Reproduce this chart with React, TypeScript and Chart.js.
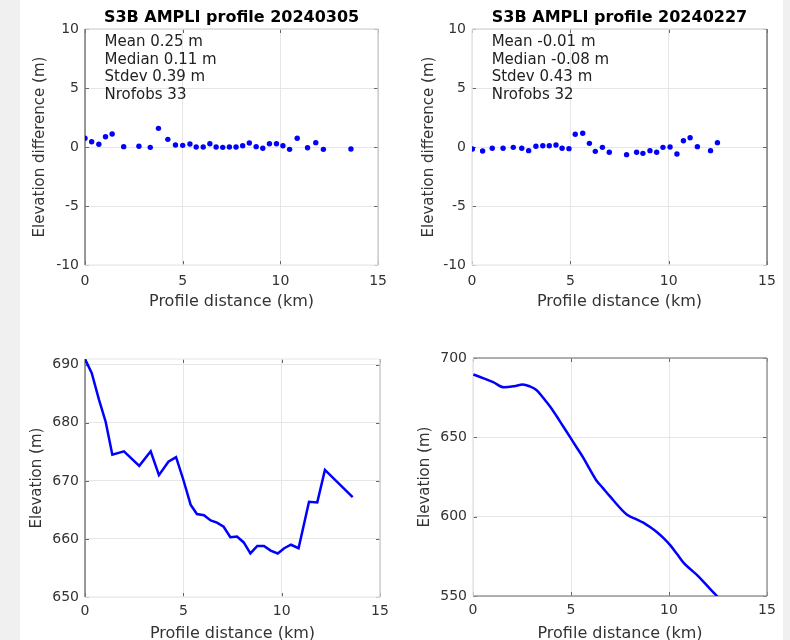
import React, { useEffect, useRef } from "react";
import { Chart, registerables } from "chart.js";
Chart.register(...registerables);

const FONT = "'DejaVu Sans', sans-serif";
const BLUE = "#0000ff";
const GRID = "#e6e6e6";
const TXT = "#333333";

// ---------- data ----------
const xTicks = [0, 5, 10, 15];
const diffTicks = [-10, -5, 0, 5, 10];
const elevTicksA = [650, 660, 670, 680, 690];
const elevTicksB = [550, 600, 650, 700];

const dist0305 = [0, 0.34, 0.71, 1.05, 1.39, 1.98, 2.76, 3.34, 3.76, 4.24, 4.63, 5.0, 5.37, 5.69, 6.05, 6.39, 6.71, 7.05, 7.39, 7.73, 8.07, 8.41, 8.76, 9.1, 9.44, 9.8, 10.13, 10.47, 10.86, 11.39, 11.81, 12.2, 13.61];
const diff0305 = [0.74, 0.45, 0.23, 0.87, 1.1, 0.03, 0.06, -0.03, 1.58, 0.65, 0.17, 0.14, 0.25, 0.0, 0.0, 0.28, 0.0, -0.03, 0.0, 0.0, 0.11, 0.34, 0.03, -0.11, 0.28, 0.28, 0.11, -0.2, 0.74, -0.06, 0.37, -0.2, -0.17];
const elev0305 = [691.0, 688.6, 684.0, 680.2, 674.5, 675.1, 672.6, 675.1, 671.0, 673.3, 674.1, 670.2, 665.9, 664.3, 664.1, 663.2, 662.8, 662.1, 660.3, 660.4, 659.4, 657.5, 658.8, 658.8, 658.0, 657.5, 658.4, 659.0, 658.4, 666.4, 666.3, 671.9, 667.2];

const dist0227 = [0.02, 0.54, 1.03, 1.58, 2.1, 2.53, 2.88, 3.25, 3.6, 3.93, 4.27, 4.58, 4.93, 5.25, 5.63, 5.97, 6.27, 6.63, 6.98, 7.86, 8.37, 8.69, 9.05, 9.39, 9.71, 10.07, 10.42, 10.75, 11.09, 11.46, 12.13, 12.48];
const diff0227 = [-0.17, -0.34, -0.11, -0.11, -0.03, -0.11, -0.31, 0.06, 0.11, 0.11, 0.17, -0.11, -0.14, 1.08, 1.16, 0.31, -0.37, -0.03, -0.45, -0.65, -0.45, -0.54, -0.31, -0.45, -0.03, 0.0, -0.59, 0.53, 0.79, 0.03, -0.31, 0.37];
const elev0227 = [689.6, 687.2, 684.8, 681.5, 682.2, 683.3, 682.2, 679.7, 674.6, 669.5, 663.3, 657.3, 650.6, 644.4, 637.1, 629.6, 623.3, 618.0, 612.9, 601.2, 598.2, 596.2, 593.3, 590.2, 586.6, 581.9, 576.3, 570.9, 566.9, 562.9, 554.0, 549.5];

const stats0305 = ["Mean 0.25 m", "Median 0.11 m", "Stdev 0.39 m", "Nrofobs 33"];
const stats0227 = ["Mean -0.01 m", "Median -0.08 m", "Stdev 0.43 m", "Nrofobs 32"];

// ---------- plugin ----------
const framePlugin = {
  id: "frame",
  beforeDatasetsDraw(chart: any, _args: any, opts: any) {
    const { ctx, chartArea: ca, scales } = chart;
    ctx.save();
    ctx.strokeStyle = "#666";
    ctx.lineWidth = 1;
    const tl = 4;
    scales.x.ticks.forEach((t: any) => {
      const px = Math.round(scales.x.getPixelForValue(t.value)) + 0.5;
      ctx.beginPath();
      ctx.moveTo(px, ca.top); ctx.lineTo(px, ca.top + tl);
      ctx.moveTo(px, ca.bottom); ctx.lineTo(px, ca.bottom - tl);
      ctx.stroke();
    });
    scales.y.ticks.forEach((t: any) => {
      const py = Math.round(scales.y.getPixelForValue(t.value)) + 0.5;
      ctx.beginPath();
      ctx.moveTo(ca.left, py); ctx.lineTo(ca.left + tl, py);
      ctx.moveTo(ca.right, py); ctx.lineTo(ca.right - tl, py);
      ctx.stroke();
    });
    const e = opts.edges;
    const line = (x1: number, y1: number, x2: number, y2: number, c: string) => {
      if (!c) return;
      ctx.strokeStyle = c;
      ctx.lineWidth = 1.5;
      ctx.beginPath(); ctx.moveTo(x1, y1); ctx.lineTo(x2, y2); ctx.stroke();
    };
    line(ca.left, ca.top, ca.right, ca.top, e.top);
    line(ca.left, ca.bottom, ca.right, ca.bottom, e.bottom);
    line(ca.left, ca.top, ca.left, ca.bottom, e.left);
    line(ca.right, ca.top, ca.right, ca.bottom, e.right);
    ctx.restore();
  },
  afterDraw(chart: any, _args: any, opts: any) {
    const { ctx, chartArea: ca, scales } = chart;
    ctx.save();
    if (opts.title) {
      ctx.font = `bold 16px ${FONT}`;
      ctx.fillStyle = "#000";
      ctx.textAlign = "center";
      ctx.textBaseline = "middle";
      ctx.fillText(opts.title, (ca.left + ca.right) / 2, opts.titleY);
    }
    if (opts.lines) {
      ctx.font = `15px ${FONT}`;
      ctx.fillStyle = "#222";
      ctx.textAlign = "left";
      ctx.textBaseline = "middle";
      const x = scales.x.getPixelForValue(opts.textX);
      const y0 = scales.y.getPixelForValue(opts.textY);
      opts.lines.forEach((s: string, i: number) => ctx.fillText(s, x, y0 + i * 17.7));
    }
    ctx.restore();
  },
};

type Panel = {
  kind: "scatter" | "line";
  xs: number[];
  ys: number[];
  yTicks: number[];
  yMin: number;
  yMax: number;
  yLabel: string;
  chartLeft: number;
  chartTop: number;
  chartBottom: number;
  padRight: number;
  yTitlePad: number;
  xTickPad: number;
  xTitlePad: number;
  title?: string;
  lines?: string[];
  edges: { top: string; bottom: string; left: string; right: string };
  smooth?: boolean;
};

const W = 395;
const H = 320;

function makeConfig(p: Panel): any {
  const ds: any = {
    data: p.xs.map((x, i) => ({ x, y: p.ys[i] })),
  };
  if (p.kind === "scatter") {
    Object.assign(ds, { showLine: false, pointRadius: 2.7, pointBackgroundColor: BLUE, pointBorderWidth: 0, backgroundColor: BLUE });
  } else {
    Object.assign(ds, { showLine: true, pointRadius: 0, borderColor: BLUE, borderWidth: 2.5, fill: false });
    if (p.smooth) ds.cubicInterpolationMode = "monotone";
  }
  return {
    type: "scatter",
    data: { datasets: [ds] },
    options: {
      responsive: false,
      animation: false,
      devicePixelRatio: 1,
      layout: { padding: { left: 0, right: p.padRight, top: p.chartTop, bottom: 0 } },
      plugins: {
        legend: { display: false },
        tooltip: { enabled: false },
        frame: { title: p.title, titleY: 17.5, lines: p.lines, textX: 1.0, textY: 8.9, edges: p.edges },
      },
      scales: {
        x: {
          type: "linear",
          min: 0,
          max: 15,
          afterBuildTicks: (a: any) => { a.ticks = xTicks.map((v) => ({ value: v })); },
          afterFit: (s: any) => { s.height = H - p.chartBottom; },
          ticks: { font: { family: FONT, size: 14 }, color: TXT, padding: p.xTickPad, maxRotation: 0, autoSkip: false },
          grid: { color: GRID, drawTicks: false, lineWidth: 1 },
          border: { display: false },
          title: { display: true, text: "Profile distance (km)", font: { family: FONT, size: 16, lineHeight: 1 }, color: TXT, padding: { top: 0, bottom: p.xTitlePad } },
        },
        y: {
          type: "linear",
          min: p.yMin,
          max: p.yMax,
          afterBuildTicks: (a: any) => { a.ticks = p.yTicks.map((v) => ({ value: v })); },
          afterFit: (s: any) => { s.width = p.chartLeft; },
          ticks: { font: { family: FONT, size: 14 }, color: TXT, padding: 6, autoSkip: false },
          grid: { color: GRID, drawTicks: false, lineWidth: 1 },
          border: { display: false },
          title: { display: true, text: p.yLabel, font: { family: FONT, size: 15, lineHeight: 1 }, color: TXT, padding: { top: p.yTitlePad, bottom: 0 } },
        },
      },
    },
    plugins: [framePlugin],
  };
}

const panels: { p: Panel; left: number; top: number }[] = [
  {
    left: 0, top: 0,
    p: {
      kind: "scatter", xs: dist0305, ys: diff0305, yTicks: diffTicks, yMin: -10, yMax: 10,
      yLabel: "Elevation difference (m)", chartLeft: 85, chartTop: 29, chartBottom: 265, padRight: 15,
      yTitlePad: 32.5, xTickPad: 8, xTitlePad: 10, title: "S3B AMPLI profile 20240305", lines: stats0305,
      edges: { top: "#dddddd", bottom: "#eeeeee", left: "#7a7a7a", right: "#cccccc" },
    },
  },
  {
    left: 395, top: 0,
    p: {
      kind: "scatter", xs: dist0227, ys: diff0227, yTicks: diffTicks, yMin: -10, yMax: 10,
      yLabel: "Elevation difference (m)", chartLeft: 77, chartTop: 29, chartBottom: 265, padRight: 23,
      yTitlePad: 27, xTickPad: 8, xTitlePad: 10, title: "S3B AMPLI profile 20240227", lines: stats0227,
      edges: { top: "#dddddd", bottom: "#eeeeee", left: "#e6e6e6", right: "#7a7a7a" },
    },
  },
  {
    left: 0, top: 320,
    p: {
      kind: "line", xs: dist0305, ys: elev0305, yTicks: elevTicksA, yMin: 650, yMax: 691,
      yLabel: "Elevation (m)", chartLeft: 85, chartTop: 39, chartBottom: 277, padRight: 15,
      yTitlePad: 29.5, xTickPad: 6, xTitlePad: -2,
      edges: { top: "#eeeeee", bottom: "#eeeeee", left: "#7a7a7a", right: "#d0d0d0" },
    },
  },
  {
    left: 395, top: 320,
    p: {
      kind: "line", xs: dist0227, ys: elev0227, yTicks: elevTicksB, yMin: 550, yMax: 700,
      yLabel: "Elevation (m)", chartLeft: 78, chartTop: 38, chartBottom: 276, padRight: 23,
      yTitlePad: 22.5, xTickPad: 6, xTitlePad: -2, smooth: true,
      edges: { top: "#999999", bottom: "#999999", left: "#e6e6e6", right: "#999999" },
    },
  },
];

function PanelChart({ p, left, top }: { p: Panel; left: number; top: number }) {
  const ref = useRef<HTMLCanvasElement>(null);
  useEffect(() => {
    const chart = new Chart(ref.current as HTMLCanvasElement, makeConfig(p));
    return () => chart.destroy();
  }, []);
  return (
    <canvas
      ref={ref}
      width={W}
      height={H}
      style={{ position: "absolute", left, top, width: W, height: H, display: "block" }}
    />
  );
}

export default function App() {
  return (
    <div style={{ position: "absolute", left: 0, top: 0, width: 790, height: 640, background: "#ffffff", overflow: "hidden" }}>
      <div style={{ position: "absolute", left: 0, top: 0, width: 20, height: 640, background: "#f0f0f0" }} />
      <div style={{ position: "absolute", left: 783, top: 0, width: 7, height: 640, background: "#f0f0f0" }} />
      {panels.map((d, i) => (
        <PanelChart key={i} p={d.p} left={d.left} top={d.top} />
      ))}
    </div>
  );
}
